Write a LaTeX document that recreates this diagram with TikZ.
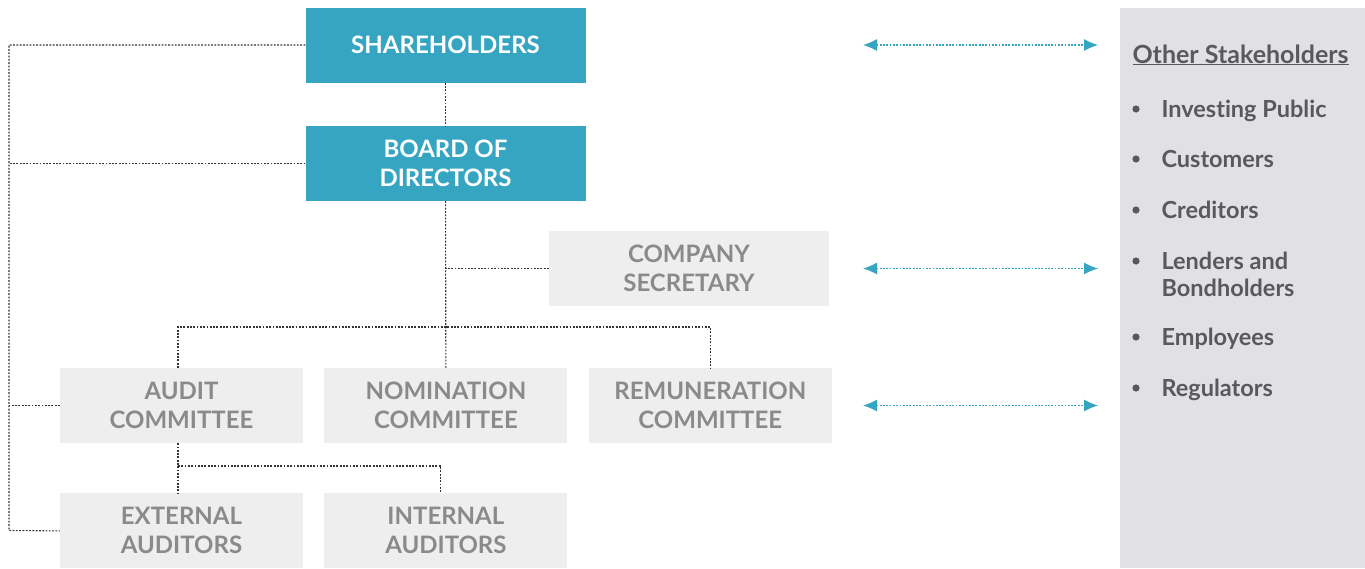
\documentclass[tikz,border=0pt]{standalone}
\usepackage{fontspec}
\setmainfont[Ligatures=NoCommon]{Lato}
\usepackage{tikz}
\usetikzlibrary{positioning}
\usetikzlibrary{arrows.meta}

\definecolor{teal}{HTML}{36A5C2}
\definecolor{boxgray}{HTML}{EEEEEE}
\definecolor{textgray}{HTML}{8A8A8C}
\definecolor{panelgray}{HTML}{E1E1E3}
\definecolor{darktext}{HTML}{58595B}
\definecolor{linegray}{HTML}{333333}

\begin{document}
\begin{tikzpicture}
	[x=1pt, y=-1pt, node distance={21pt},
	box/.style = {rectangle, minimum height=75pt, inner sep=0pt, align=center, font=\fontsize{24}{29}\selectfont\bfseries},
	main/.style = {box, fill=teal, text=white, minimum width=280pt},
	sub/.style = {box, fill=boxgray, text=textgray, minimum width=243pt},
	link/.style = {draw=linegray, line width=1.1pt, dash pattern=on 1.8pt off 1.5pt},
	twoway/.style = {draw=teal, line width=1.1pt, dash pattern=on 1.8pt off 1.5pt, {Latex[length=14pt,width=12pt]}-{Latex[length=14pt,width=12pt]}},
	item/.style = {anchor=base west, align=left, text=darktext, font=\fontsize{23.5}{27}\selectfont\bfseries}]
	\useasboundingbox (0,0) rectangle (1365,568);
	\fill[panelgray] (1120,8) rectangle (1365,568);
	\node[main] (share) at (445.5,45) {SHAREHOLDERS};
	\node[main] (board) [below=43pt of share] {BOARD OF\\DIRECTORS};
	\node[sub, minimum width=280pt] (secr) at (689,268.5) {COMPANY\\SECRETARY};
	\node[sub] (audit) at (181.5,405.5) {AUDIT\\COMMITTEE};
	\node[sub] (nomin) [right = of audit] {NOMINATION\\COMMITTEE};
	\node[sub] (remun) [right = of nomin] {REMUNERATION\\COMMITTEE};
	\node[sub] (extaud) [below=50pt of audit] {EXTERNAL\\AUDITORS};
	\node[sub] (intaud) [right = of extaud] {INTERNAL\\AUDITORS};
	\coordinate (railtop) at (9,45);
	\coordinate (railbot) at (9,530.5);
	\coordinate (bus) at (445.5,327);
	\coordinate (split) at (178,466);
	\coordinate (arrl) at (863,0);
	\coordinate (arrr) at (1098,0);
	\draw[link] (share.west) -- (railtop) -- (railbot) -- (extaud.west);
	\draw[link] (board.west) -- (board.west -| railtop);
	\draw[link] (audit.west) -- (audit.west -| railtop);
	\draw[link] (share) -- (board);
	\draw[link] (board) -- (nomin);
	\draw[link] (secr.west) -- (secr.west -| bus);
	\draw[link] (audit.north -| split) |- (bus) -| (remun.north);
	\draw[link] (audit.south -| split) -- (extaud.north -| split);
	\draw[link] (split) -| ([xshift=-5pt]intaud.north);
	\draw[twoway] (share -| arrl) -- (share -| arrr);
	\draw[twoway] (secr -| arrl) -- (secr -| arrr);
	\draw[twoway] (remun -| arrl) -- (remun -| arrr);
	\node[item, font=\fontsize{25}{27}\selectfont\bfseries] (other) at (1129,63) {\underline{Other Stakeholders}};
	\foreach \y/\b/\name [count=\i] in {117/117/Investing Public, 167/167/Customers, 218/218/Creditors, 296/269/{Lenders and\\Bondholders}, 345/345/Employees, 396/396/Regulators}{
		\node[item] (item\i) at (1158,\y) {\name};
		\fill[darktext] (1136,\b-8) circle (3.6pt);
	}
\end{tikzpicture}
\end{document}
